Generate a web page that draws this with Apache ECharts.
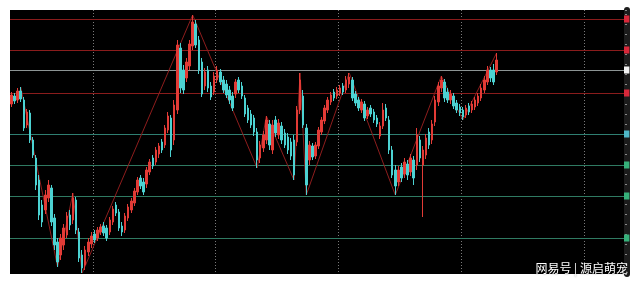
<!DOCTYPE html>
<html>
<head>
<meta charset="utf-8">
<script src="https://cdn.jsdelivr.net/npm/echarts@6/dist/echarts.min.js"></script>
<style>
html,body{margin:0;padding:0;background:#fff;}
#c{width:640px;height:284px;}
</style>
</head>
<body>
<div id="c"></div>
<script>
// ---- data (prices) ----
const slotCount = 200; // daily slots on the x axis (data fills the first part)
const opens = [17.0,17.8,17.4,18.3,17.4,14.9,16.1,13.4,11.6,9.4,
 6.9,6.4,7.6,8.6,5.6,3.2,1.9,2.9,3.9,5.9,
 5.4,7.4,4.2,1.9,0.9,2.2,3.0,4.0,3.6,4.2,
 4.8,4.6,4.2,5.2,6.9,6.2,4.8,4.4,5.6,6.4,
 7.1,8.2,9.6,9.2,9.0,10.2,11.6,11.2,12.0,13.2,
 12.9,14.4,15.6,13.4,16.4,22.6,20.4,19.6,20.8,22.8,
 25.0,23.4,21.2,18.8,20.4,18.8,18.2,19.4,20.2,19.4,
 19.0,18.4,17.8,18.0,19.4,18.8,17.6,16.6,16.0,15.6,
 14.2,11.6,12.6,13.4,15.0,12.4,15.4,13.9,14.8,14.1,
 13.7,13.2,13.4,13.2,16.4,17.8,14.6,11.4,12.8,11.8,
 12.8,14.2,15.3,16.4,17.2,18.2,17.8,18.1,18.8,18.4,
 19.0,19.4,18.0,17.4,16.4,17.0,15.8,16.6,16.2,15.6,
 13.8,14.8,16.6,15.4,12.4,10.4,9.2,10.7,10.0,11.0,
 10.2,11.4,10.9,13.4,10.9,11.9,14.2,13.4,15.2,17.2,
 18.6,19.2,18.2,17.4,17.8,17.1,16.7,16.4,15.9,16.8,
 16.4,16.7,17.1,17.6,18.4,19.2,20.4,20.4,20.2];
const closes = [17.9,17.3,18.3,17.5,14.6,16.2,13.4,11.9,8.9,5.9,
 5.2,7.9,8.9,5.2,2.9,1.2,3.6,4.6,5.8,4.9,
 7.6,4.4,1.6,0.6,2.4,3.2,3.8,3.4,4.4,4.7,
 4.1,3.6,5.4,6.5,6.1,4.6,4.2,5.8,6.7,7.3,
 8.3,9.4,8.8,8.2,10.4,11.2,10.8,12.4,12.8,12.4,
 14.6,15.8,12.4,16.9,22.9,18.6,18.4,21.2,23.0,25.2,
 22.9,20.4,18.0,20.2,18.6,17.7,19.8,20.4,19.2,18.4,
 17.9,17.4,16.6,19.2,18.4,17.8,16.0,15.4,14.9,14.2,
 11.4,12.9,13.9,15.4,12.9,14.9,14.1,15.1,13.4,12.9,
 12.4,11.8,9.9,16.4,19.4,14.9,8.9,12.9,11.7,12.9,
 14.4,15.4,16.6,17.4,17.9,17.6,18.4,18.6,18.2,19.4,
 19.7,17.6,17.1,16.6,17.2,15.6,16.4,16.0,15.4,15.0,
 14.8,16.4,15.6,12.4,9.9,8.8,10.4,9.6,11.2,9.9,
 11.6,9.6,13.9,11.6,12.4,13.6,12.9,15.0,17.4,18.8,
 19.4,17.6,17.4,18.0,16.8,16.4,16.1,15.7,16.6,16.2,
 17.0,17.4,17.8,18.6,19.4,20.4,19.6,19.2,21.4];
const lows = [16.7,17.0,17.1,17.2,14.3,14.6,13.1,11.6,8.4,5.4,
 4.7,6.0,7.2,4.8,2.4,0.7,1.4,2.4,3.6,4.4,
 5.0,4.0,1.2,0.1,0.4,1.8,2.6,3.1,3.3,3.9,
 3.8,3.3,3.9,4.9,5.8,4.3,3.8,4.1,5.3,6.1,
 6.8,7.9,8.5,7.9,8.6,9.9,10.5,10.9,11.6,12.1,
 12.6,14.1,11.7,12.9,16.0,18.1,18.0,19.2,20.4,22.4,
 22.6,20.0,17.7,18.4,18.2,17.4,17.9,19.1,18.9,18.1,
 17.6,17.0,16.3,17.6,18.1,17.5,15.7,15.1,14.6,13.8,
 10.6,11.1,12.2,13.0,12.4,12.0,13.7,13.5,13.0,12.6,
 12.0,11.4,9.4,12.8,16.0,14.6,7.9,10.9,11.4,11.5,
 12.5,13.9,15.0,16.1,16.9,17.3,17.5,17.8,17.9,18.1,
 18.6,17.3,16.8,16.3,16.1,15.3,15.5,15.7,15.1,14.7,
 13.5,14.5,15.3,12.0,9.6,7.9,8.8,9.2,9.6,9.4,
 9.8,8.9,10.4,11.2,5.7,11.5,12.5,13.0,14.8,16.8,
 18.2,17.2,17.1,17.0,16.5,16.1,15.8,15.4,15.6,15.9,
 16.1,16.4,16.8,17.3,18.1,18.9,19.2,18.9,19.9];
const highs = [18.2,18.1,18.6,18.7,17.7,16.5,16.4,13.7,11.9,9.9,
 7.4,8.4,9.4,8.9,6.0,3.6,4.0,5.0,6.2,6.4,
 8.1,7.7,4.6,2.4,2.8,3.6,4.2,4.4,4.7,5.0,
 5.2,4.9,5.7,6.8,7.2,6.5,5.2,6.1,7.0,7.6,
 8.6,9.7,9.9,9.6,10.7,11.5,11.9,12.7,13.1,13.5,
 14.9,16.2,15.9,17.4,23.4,23.1,20.9,21.6,23.4,25.9,
 25.4,23.8,21.6,20.6,20.8,19.2,20.2,20.8,20.5,19.8,
 19.4,18.8,18.2,19.5,19.7,19.2,17.9,16.9,16.4,15.9,
 14.6,13.3,14.3,15.8,15.4,15.4,15.8,15.5,15.2,14.5,
 14.1,13.6,13.9,16.8,20.1,18.4,15.0,13.3,13.1,13.2,
 14.7,15.7,16.9,17.7,18.2,18.5,18.7,18.9,19.1,19.8,
 20.1,19.7,18.3,17.7,17.5,17.3,16.7,16.9,16.5,15.9,
 15.2,17.1,17.0,15.8,12.8,10.9,10.8,11.1,11.6,11.4,
 12.0,11.8,14.6,13.8,12.8,14.0,14.6,15.4,17.8,19.2,
 19.8,19.5,18.6,18.4,18.1,17.4,17.0,16.7,16.9,17.1,
 17.3,17.7,18.1,19.0,19.8,20.8,20.7,21.0,22.1];
// zigzag pivots (day index, price)
const zigzagIndex = [3,15,20,23,59,80,83,92,94,96,110,125,140,147,158];
const zigzagPrice = [18.7,0.7,8.1,0.1,25.9,10.6,15.8,9.4,20.1,7.9,20.1,7.9,19.8,15.4,22.1];
// horizontal price levels
const levelValues = [25.5,22.4,20.4,18.1,14.0,10.9,7.8,3.6];
const levelKinds  = ['red','red','white','red','cyan','green','green','green'];
const watermark = '网易号 | 源启萌宠';

// ---- build ----
const categories = Array.from({length: slotCount}, (_, i) => 'D' + (i + 1));
const candles = opens.map((o, i) => [o, closes[i], lows[i], highs[i]]);
const zigzag = new Array(opens.length).fill(null);
zigzagIndex.forEach((idx, k) => { zigzag[idx] = zigzagPrice[k]; });

const lineColor = {red:'#8a1c1c', white:'#8c9494', cyan:'#2f7f72', green:'#2f7a62'};
const tagColor  = {red:'#d8283a', white:'#f2f2f2', cyan:'#4fb7c8', green:'#36b07a'};

const chart = echarts.init(document.getElementById('c'), null, {renderer:'canvas'});
chart.setOption({
  backgroundColor: '#ffffff',
  animation: false,
  grid: {left:10, right:16, top:10, bottom:10, show:true, backgroundColor:'#000000', borderWidth:0},
  xAxis: {
    type:'category', data: categories, boundaryGap:true,
    axisLine:{show:false}, axisTick:{show:false}, axisLabel:{show:false},
    splitLine:{show:true, interval:(i) => i % 40 === 27, lineStyle:{color:'#7a7a7a', type:[1,2], width:1}}
  },
  yAxis: {
    type:'value', position:'right', offset:3, min:0, max:26.4, interval:1,
    axisLine:{show:true, lineStyle:{color:'#1c1c1c', width:6}},
    axisTick:{show:true, inside:true, length:2, lineStyle:{color:'#8a8a8a'}},
    axisLabel:{show:false}, splitLine:{show:false}
  },
  series: [
    {
      type:'line', data: zigzag, connectNulls:true, symbol:'none', silent:true,
      lineStyle:{color:'#8e1d1d', width:1}, z:1
    },
    {
      type:'candlestick', data: candles, barWidth: 2, z:3,
      itemStyle:{color:'#e23b36', color0:'#4cd2d2', borderColor:'#e23b36', borderColor0:'#4cd2d2', borderWidth:1},
      markLine:{
        symbol:'none', silent:true, z:1,
        data: levelValues.map((v, i) => ({
          yAxis: v,
          lineStyle:{color: lineColor[levelKinds[i]], width:1, type:'solid'},
          label:{show:true, position:'end', formatter:' ', distance:0, fontSize:5, padding:[1,2],
                 backgroundColor: tagColor[levelKinds[i]]}
        }))
      }
    }
  ],
  graphic: [{
    type:'text', right:12, bottom:10, z:100,
    style:{text: watermark, fill:'#ffffff', font:'12px "Noto Sans CJK SC"',
           textShadowColor:'rgba(0,0,0,0.6)', textShadowBlur:2}
  }]
});
</script>
</body>
</html>
